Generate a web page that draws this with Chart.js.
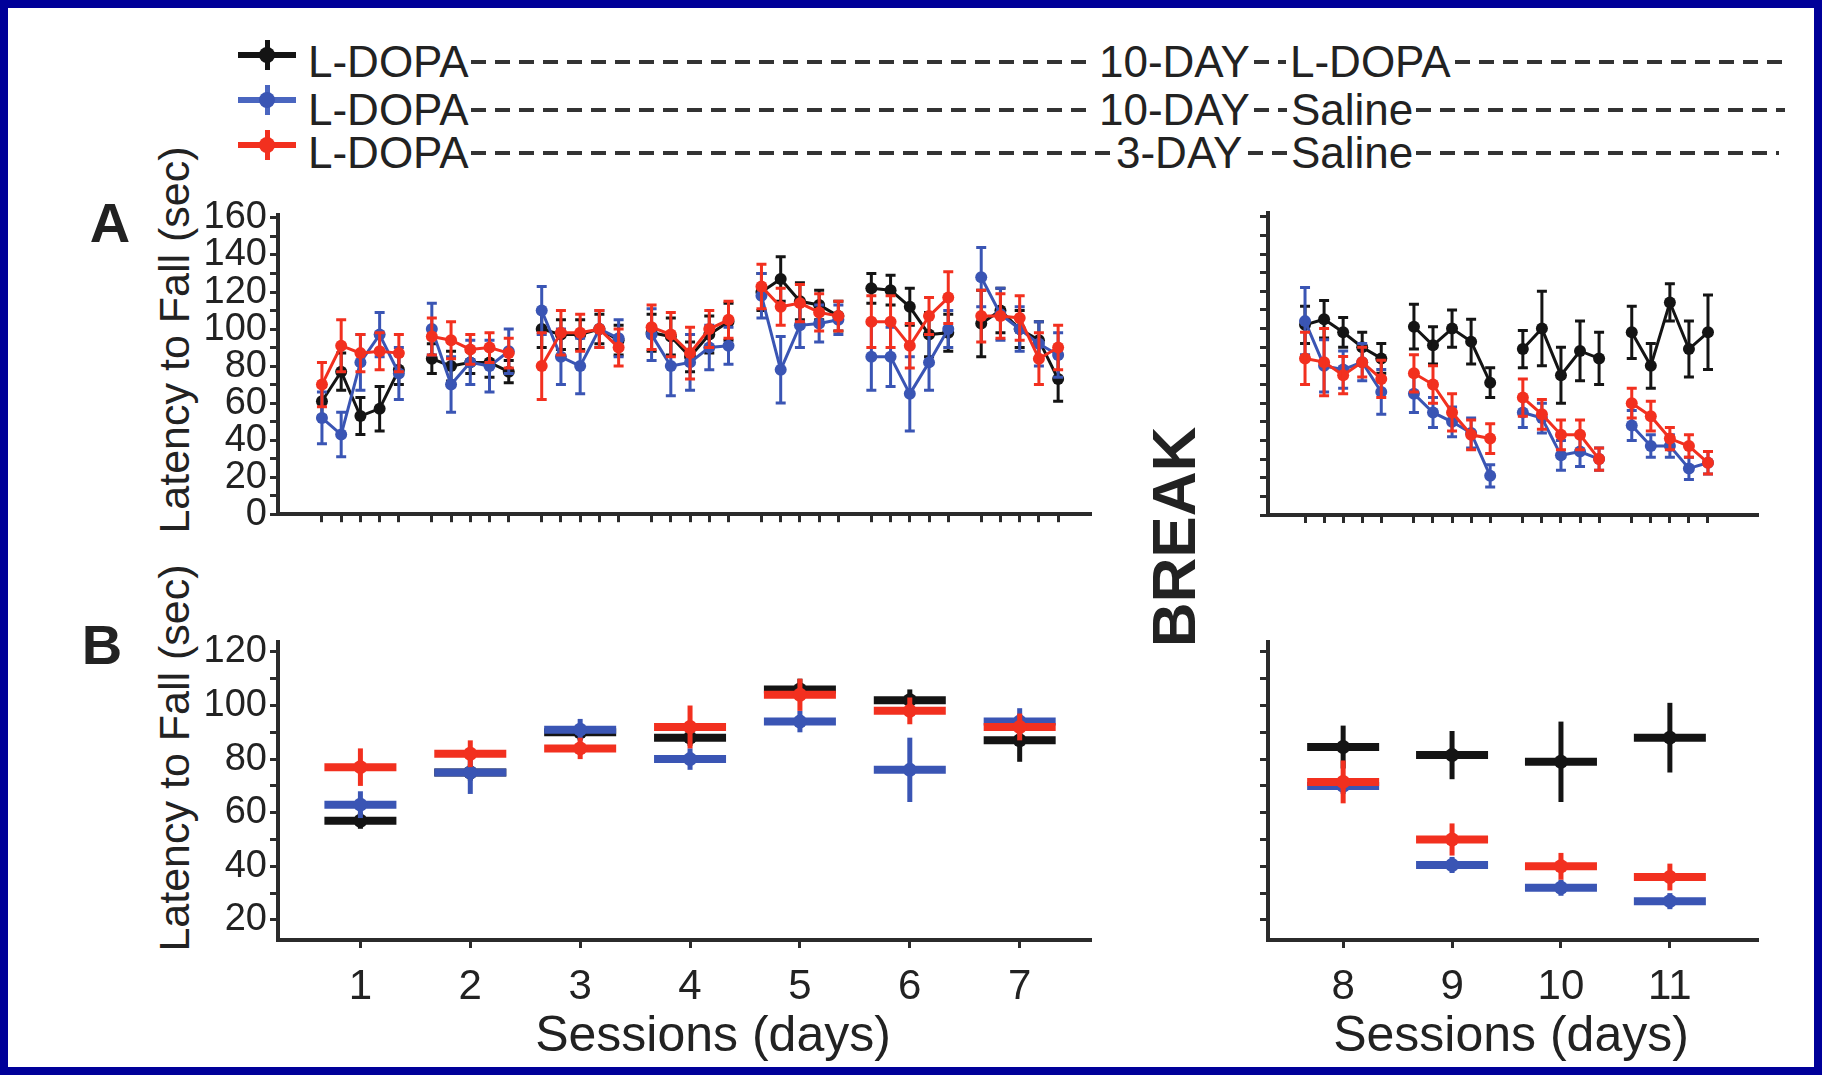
<!DOCTYPE html>
<html>
<head>
<meta charset="utf-8">
<script src="https://cdn.jsdelivr.net/npm/chart.js@4.4.1/dist/chart.umd.min.js"></script>
<style>
  html, body { margin: 0; padding: 0; background: #fff; }
  #figura { position: relative; width: 1822px; height: 1075px; overflow: hidden;
            font-family: 'Liberation Sans', Arial, sans-serif; color: #222; }
  #moldura { position: absolute; left: 0; top: 0; width: 1822px; height: 1075px; box-sizing: border-box;
             border: 8px solid #000099; pointer-events: none; z-index: 10; }
  canvas { position: absolute; }
  .txt { position: absolute; white-space: nowrap; line-height: 44px; height: 44px; font-size: 44px; }
  .dash { position: absolute; height: 4px;
          background: repeating-linear-gradient(90deg, #333 0 15px, transparent 15px 24px); }
  .mk { position: absolute; width: 58px; height: 30px; }
  .mk .h { position: absolute; left: 0; top: 12px; width: 58px; height: 6px; }
  .mk .v { position: absolute; left: 27px; top: 0; width: 5px; height: 30px; }
  .mk .c { position: absolute; left: 21px; top: 7px; width: 16px; height: 16px; border-radius: 50%; }
  .painel { position: absolute; font-weight: bold; font-size: 56px; line-height: 1;
            transform: translate(-50%, -50%); }
  .titulo { position: absolute; white-space: nowrap; line-height: 1; transform: translate(-50%, -50%); }
  .titulo.y { font-size: 43px; transform: translate(-50%, -50%) rotate(-90deg); }
  .titulo.x { font-size: 50px; }
  #pausa { position: absolute; left: 1174px; top: 537px; font-weight: bold; font-size: 62px; line-height: 1;
           transform: translate(-50%, -50%) rotate(-90deg); }
</style>
</head>
<body>
<div id="figura">
  <div id="moldura"></div>

  <!-- legenda -->
  <div class="mk" style="left:238px; top:40px"><div class="h" style="background:#141414"></div><div class="v" style="background:#141414"></div><div class="c" style="background:#141414"></div></div>
  <div class="txt" style="left:308px; top:40px">L-DOPA</div>
  <div class="dash" style="left:471px; width:622px; top:60px"></div>
  <div class="txt" style="left:1099px; top:40px">10-DAY</div>
  <div class="dash" style="left:1254px; width:32px; top:60px"></div>
  <div class="txt" style="left:1290px; top:40px">L-DOPA</div>
  <div class="dash" style="left:1455px; width:330px; top:60px"></div>

  <div class="mk" style="left:238px; top:85px"><div class="h" style="background:#4a66c0"></div><div class="v" style="background:#4a66c0"></div><div class="c" style="background:#3a55b4"></div></div>
  <div class="txt" style="left:308px; top:88px">L-DOPA</div>
  <div class="dash" style="left:471px; width:622px; top:108px"></div>
  <div class="txt" style="left:1099px; top:88px">10-DAY</div>
  <div class="dash" style="left:1254px; width:33px; top:108px"></div>
  <div class="txt" style="left:1291px; top:88px">Saline</div>
  <div class="dash" style="left:1416px; width:369px; top:108px"></div>

  <div class="mk" style="left:238px; top:130px"><div class="h" style="background:#f2301f"></div><div class="v" style="background:#f2301f"></div><div class="c" style="background:#f2301f"></div></div>
  <div class="txt" style="left:308px; top:131px">L-DOPA</div>
  <div class="dash" style="left:471px; width:639px; top:151px"></div>
  <div class="txt" style="left:1116px; top:131px">3-DAY</div>
  <div class="dash" style="left:1248px; width:39px; top:151px"></div>
  <div class="txt" style="left:1291px; top:131px">Saline</div>
  <div class="dash" style="left:1416px; width:363px; top:151px"></div>

  <div class="painel" style="left:110px; top:223px">A</div>
  <div class="painel" style="left:102px; top:645px">B</div>
  <div id="pausa">BREAK</div>

  <div class="titulo y" style="left:174px; top:340px">Latency to Fall (sec)</div>
  <div class="titulo y" style="left:174px; top:758px">Latency to Fall (sec)</div>
  <div class="titulo x" style="left:713px; top:1034px">Sessions (days)</div>
  <div class="titulo x" style="left:1511px; top:1034px">Sessions (days)</div>

  <canvas id="gA1" width="1110" height="360" style="left:0; top:180px"></canvas>
  <canvas id="gA2" width="570" height="360" style="left:1220px; top:180px"></canvas>
  <canvas id="gB1" width="1110" height="400" style="left:0; top:610px"></canvas>
  <canvas id="gB2" width="570" height="400" style="left:1220px; top:610px"></canvas>
</div>

<script>
const trialOffsets = [-0.35, -0.175, 0, 0.175, 0.35];
const daysBefore = [1, 2, 3, 4, 5, 6, 7];
const daysAfter = [8, 9, 10, 11];
const yTicksA = [0, 10, 20, 30, 40, 50, 60, 70, 80, 90, 100, 110, 120, 130, 140, 150, 160];
const yTicksB = [20, 30, 40, 50, 60, 70, 80, 90, 100, 110, 120];

// A: latency per trial (5 trials per day), days 1-7
const blackTrials1 = [61, 77, 53, 57, 78,  84, 80, 82, 82, 77,  100, 97, 97, 100, 94,  98, 96, 85, 97, 104,
                      120, 127, 115, 113, 107,  122, 121, 112, 97, 98,  103, 110, 100, 94, 73];
const blackErr1 = [8, 10, 10, 12, 8,  8, 8, 6, 8, 6,  10, 8, 8, 8, 8,  10, 10, 8, 10, 10,
                   10, 12, 10, 8, 8,  8, 8, 10, 12, 10,  18, 12, 10, 10, 12];
const blueTrials1 = [52, 43, 82, 97, 76,  100, 70, 82, 80, 88,  110, 85, 80, 100, 95,  97, 80, 82, 90, 91,
                     118, 78, 102, 103, 105,  85, 85, 65, 82, 100,  128, 108, 100, 92, 86];
const blueErr1 = [14, 12, 15, 12, 14,  14, 15, 12, 14, 12,  13, 15, 15, 10, 10,  14, 16, 15, 12, 10,
                  12, 18, 12, 10, 8,  18, 16, 20, 15, 10,  16, 14, 12, 12, 12];
const redTrials1 = [70, 91, 87, 88, 87,  96, 94, 89, 90, 87,  80, 98, 98, 100, 90,  101, 97, 87, 100, 105,
                    123, 112, 114, 109, 107,  104, 104, 91, 107, 117,  107, 107, 106, 84, 90];
const redErr1 = [12, 14, 10, 10, 10,  10, 10, 8, 8, 8,  18, 12, 10, 10, 10,  12, 12, 14, 10, 10,
                 12, 10, 10, 10, 8,  14, 14, 12, 10, 14,  14, 12, 12, 14, 12];

// A: days 8-11 after the break
const blackTrials2 = [102, 105, 98, 90, 84,  101, 91, 100, 93, 71,  89, 100, 75, 88, 84,  98, 80, 114, 89, 98];
const blackErr2 = [10, 10, 8, 8, 8,  12, 10, 10, 12, 8,  10, 20, 15, 16, 14,  14, 12, 10, 15, 20];
const blueTrials2 = [104, 80, 78, 82, 66,  65, 55, 50, 44, 21,  55, 52, 32, 34, 30,  48, 37, 37, 25, 28];
const blueErr2 = [18, 14, 10, 10, 12,  10, 8, 8, 8, 6,  8, 8, 8, 8, 6,  8, 6, 6, 6, 6];
const redTrials2 = [84, 82, 75, 82, 73,  76, 70, 55, 43, 41,  63, 54, 43, 43, 30,  60, 53, 41, 37, 28];
const redErr2 = [14, 18, 10, 8, 10,  10, 10, 10, 8, 8,  10, 8, 8, 8, 6,  8, 8, 6, 6, 6];

// B: daily means
const blackMean1 = [57, 75, 90, 88, 106, 102, 87];
const blackMeanErr1 = [3, 3, 3, 3, 4, 4, 8];
const blueMean1 = [63, 75, 91, 80, 94, 76, 94];
const blueMeanErr1 = [5, 8, 4, 4, 4, 12, 5];
const redMean1 = [77, 82, 84, 92, 104, 98, 92];
const redMeanErr1 = [7, 5, 4, 8, 6, 5, 5];
const blackMean2 = [84.5, 81.5, 79, 88];
const blackMeanErr2 = [8, 9, 15, 13];
const blueMean2 = [70, 40.5, 32, 27];
const blueMeanErr2 = [3, 3, 3, 3];
const redMean2 = [71.5, 50, 40, 36];
const redMeanErr2 = [8, 6, 5, 5];

const AXIS = '#2b2b2b';
const BLACK = '#141414', BLUE = '#3a55b4', RED = '#f2301f';
Chart.defaults.font.family = "'Liberation Sans', Arial, sans-serif";
Chart.defaults.color = '#222';

// vertical error bars drawn from the y scale
const errorBars = {
    id: 'errorBars',
    afterDatasetDraw(chart, args) {
        const ds = chart.data.datasets[args.index];
        if (!ds.errors) return;
        const y = chart.scales.y;
        const ctx = chart.ctx;
        ctx.save();
        ctx.strokeStyle = ds.borderColor;
        ctx.fillStyle = ds.borderColor;
        ctx.lineWidth = ds.errWidth;
        args.meta.data.forEach((pt, i) => {
            const raw = ds.data[i];
            const e = ds.errors[i];
            if (raw.y == null || e == null) return;
            const top = y.getPixelForValue(raw.y + e);
            const bot = y.getPixelForValue(raw.y - e);
            ctx.beginPath();
            ctx.moveTo(pt.x, top);
            ctx.lineTo(pt.x, bot);
            if (ds.errCap) {
                ctx.moveTo(pt.x - ds.errCap, top);
                ctx.lineTo(pt.x + ds.errCap, top);
                ctx.moveTo(pt.x - ds.errCap, bot);
                ctx.lineTo(pt.x + ds.errCap, bot);
            }
            ctx.stroke();
            if (ds.dot) {
                ctx.beginPath();
                ctx.arc(pt.x, pt.y, ds.dot, 0, Math.PI * 2);
                ctx.fill();
            }
        });
        ctx.restore();
    }
};

function trialPoints(days, values) {
    const pts = [];
    days.forEach((d, i) => {
        trialOffsets.forEach((off, t) => pts.push({ x: d + off, y: values[i * 5 + t] }));
        pts.push({ x: d + 0.5, y: null });
    });
    return pts;
}

function trialErrors(days, errs) {
    const out = [];
    days.forEach((d, i) => {
        trialOffsets.forEach((off, t) => out.push(errs[i * 5 + t]));
        out.push(null);
    });
    return out;
}

function trialDataset(label, color, order, days, values, errs) {
    return {
        label: label, order: order,
        data: trialPoints(days, values),
        errors: trialErrors(days, errs),
        errWidth: 3, errCap: 5,
        borderColor: color, backgroundColor: color,
        pointBackgroundColor: color, pointBorderColor: color,
        borderWidth: 3, pointRadius: 6, pointBorderWidth: 0,
        spanGaps: false
    };
}

function meanDataset(label, color, order, days, values, errs) {
    return {
        label: label, order: order,
        data: days.map((d, i) => ({ x: d, y: values[i] })),
        errors: errs,
        errWidth: 5, errCap: 0, dot: 7,
        showLine: false,
        pointStyle: 'line', pointRadius: 36, pointBorderWidth: 8,
        borderColor: color, backgroundColor: color, pointBorderColor: color
    };
}

function buildChart(id, datasets, cfg) {
    return new Chart(document.getElementById(id), {
        type: 'line',
        data: { datasets: datasets },
        options: {
            responsive: false,
            animation: false,
            layout: { padding: cfg.padding, autoPadding: false },
            plugins: { legend: { display: false }, tooltip: { enabled: false } },
            scales: {
                x: {
                    type: 'linear', min: cfg.xMin, max: cfg.xMax,
                    afterBuildTicks: s => { s.ticks = cfg.xTicks.map(v => ({ value: v })); },
                    afterFit: s => { s.height = cfg.xHeight; },
                    border: { color: AXIS, width: 4 },
                    grid: { drawOnChartArea: false, color: AXIS, lineWidth: 3, tickLength: 8 },
                    ticks: { display: cfg.xLabels, autoSkip: false, font: { size: 42 }, padding: 14 }
                },
                y: {
                    type: 'linear', min: cfg.yMin, max: cfg.yMax,
                    afterBuildTicks: s => { s.ticks = cfg.yTicks.map(v => ({ value: v })); },
                    afterFit: s => { s.width = cfg.yWidth; },
                    border: { color: AXIS, width: 4 },
                    grid: { drawOnChartArea: false, color: AXIS, lineWidth: 3, tickLength: 8 },
                    ticks: { display: cfg.yLabels, autoSkip: false, font: { size: 38 }, padding: 3,
                             callback: v => (v % 20 === 0 ? v : '') }
                }
            }
        },
        plugins: [errorBars]
    });
}

const ticksBefore = daysBefore.flatMap(d => trialOffsets.map(o => d + o));
const ticksAfter = daysAfter.flatMap(d => trialOffsets.map(o => d + o));

buildChart('gA1', [
    trialDataset('L-DOPA / L-DOPA', BLACK, 2, daysBefore, blackTrials1, blackErr1),
    trialDataset('L-DOPA / Saline (10-day)', BLUE, 1, daysBefore, blueTrials1, blueErr1),
    trialDataset('L-DOPA / Saline (3-day)', RED, 0, daysBefore, redTrials1, redErr1)
], { padding: { top: 35, right: 20, left: 0, bottom: 0 }, xMin: 0.25, xMax: 7.64, xTicks: ticksBefore,
     xHeight: 24, xLabels: false, yMin: 0, yMax: 161.6, yTicks: yTicksA, yWidth: 278, yLabels: true });

buildChart('gA2', [
    trialDataset('L-DOPA / L-DOPA', BLACK, 2, daysAfter, blackTrials2, blackErr2),
    trialDataset('L-DOPA / Saline (10-day)', BLUE, 1, daysAfter, blueTrials2, blueErr2),
    trialDataset('L-DOPA / Saline (3-day)', RED, 0, daysAfter, redTrials2, redErr2)
], { padding: { top: 33, right: 33, left: 0, bottom: 0 }, xMin: 7.31, xMax: 11.8, xTicks: ticksAfter,
     xHeight: 25, xLabels: false, yMin: 0, yMax: 162, yTicks: yTicksA, yWidth: 48, yLabels: false });

buildChart('gB1', [
    meanDataset('L-DOPA / L-DOPA', BLACK, 2, daysBefore, blackMean1, blackMeanErr1),
    meanDataset('L-DOPA / Saline (10-day)', BLUE, 1, daysBefore, blueMean1, blueMeanErr1),
    meanDataset('L-DOPA / Saline (3-day)', RED, 0, daysBefore, redMean1, redMeanErr1)
], { padding: { top: 32, right: 20, left: 0, bottom: 0 }, xMin: 0.25, xMax: 7.64, xTicks: daysBefore,
     xHeight: 70, xLabels: true, yMin: 12.5, yMax: 123.7, yTicks: yTicksB, yWidth: 278, yLabels: true });

buildChart('gB2', [
    meanDataset('L-DOPA / L-DOPA', BLACK, 2, daysAfter, blackMean2, blackMeanErr2),
    meanDataset('L-DOPA / Saline (10-day)', BLUE, 1, daysAfter, blueMean2, blueMeanErr2),
    meanDataset('L-DOPA / Saline (3-day)', RED, 0, daysAfter, redMean2, redMeanErr2)
], { padding: { top: 32, right: 33, left: 0, bottom: 0 }, xMin: 7.31, xMax: 11.8, xTicks: daysAfter,
     xHeight: 70, xLabels: true, yMin: 12.5, yMax: 123.7, yTicks: yTicksB, yWidth: 48, yLabels: false });
</script>
</body>
</html>
